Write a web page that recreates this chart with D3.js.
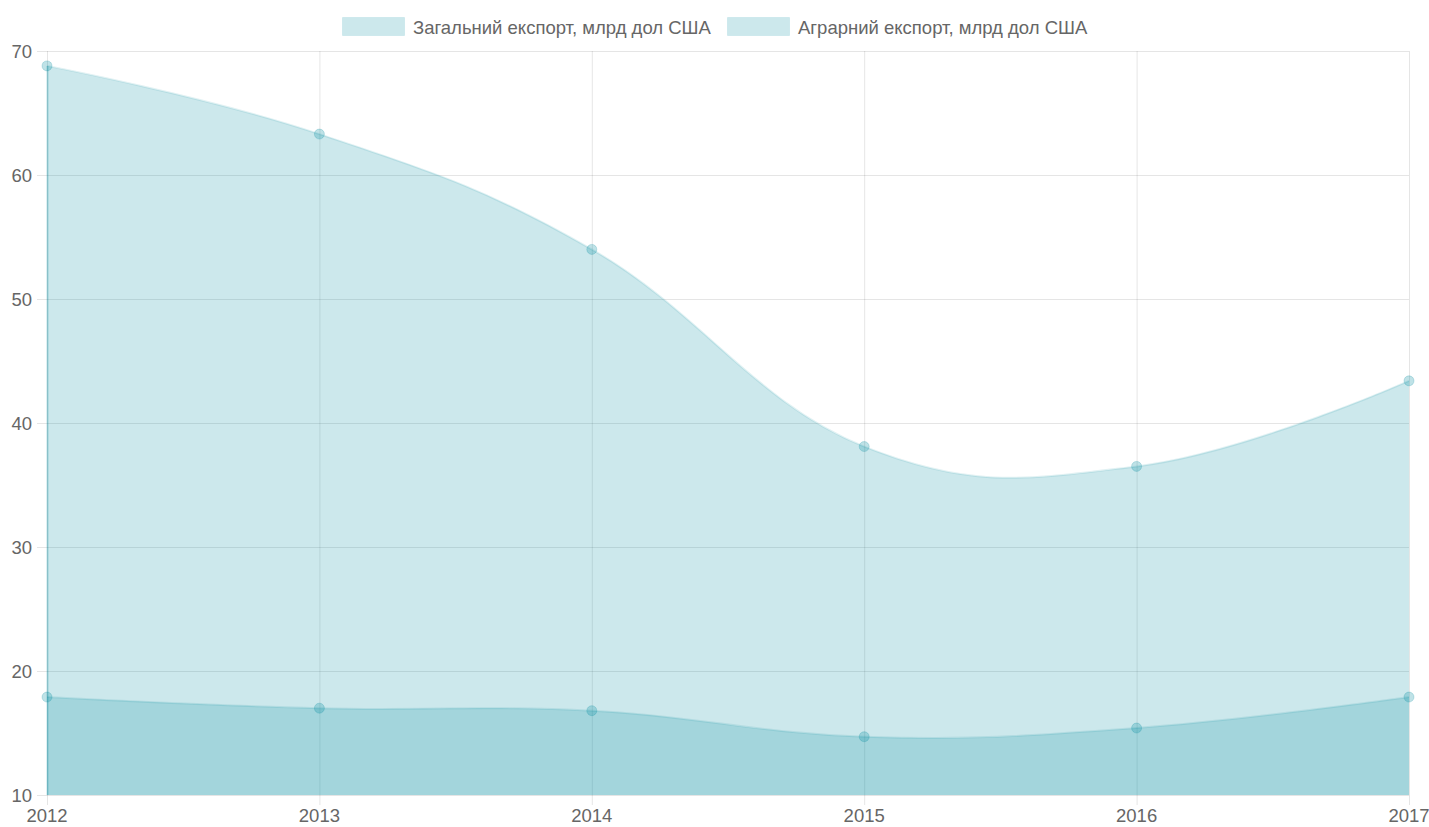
<!DOCTYPE html>
<html>
<head>
<meta charset="utf-8">
<script src="https://cdn.jsdelivr.net/npm/d3@7"></script>
<style>
  body { margin: 0; background: #fff; }
  svg { display: block; font-family: "Liberation Sans", Arial, sans-serif; }
</style>
</head>
<body>
<div id="chart"></div>
<script>
document.addEventListener('DOMContentLoaded', () => {

    // data
    const years = ["2012", "2013", "2014", "2015", "2016", "2017"];
    const totalExport = [68.8, 63.3, 54.0, 38.1, 36.5, 43.4];
    const agroExport = [17.9, 17.0, 16.8, 14.7, 15.4, 17.9];
    const seriesNames = ["Загальний експорт, млрд дол США", "Аграрний експорт, млрд дол США"];
    const yTicks = [10, 20, 30, 40, 50, 60, 70];

    const width = 1429;
    const height = 827;
    const margin = { top: 51, right: 20, bottom: 32, left: 47 };
    const fontSize = 18.5;

    const fillColor = "rgba(0,140,160,0.2)";
    const gridColor = "rgba(0,0,0,0.1)";

    const svg = d3.select("#chart").append("svg")
        .attr("width", width)
        .attr("height", height);

    const x = d3.scalePoint()
        .domain(years)
        .range([margin.left, width - margin.right]);

    const y = d3.scaleLinear()
        .domain([10, 70])
        .range([height - margin.bottom, margin.top]);

    // gridlines
    const grid = svg.append("g");
    grid.selectAll(".hg")
        .data(yTicks)
        .enter().append("line")
        .attr("x1", margin.left - 10)
        .attr("x2", width - margin.right)
        .attr("y1", d => y(d) + 0.5)
        .attr("y2", d => y(d) + 0.5)
        .attr("stroke", gridColor);
    grid.selectAll(".vg")
        .data(years)
        .enter().append("line")
        .attr("x1", d => x(d) + 0.5)
        .attr("x2", d => x(d) + 0.5)
        .attr("y1", margin.top)
        .attr("y2", height - margin.bottom + 10)
        .attr("stroke", gridColor);

    // y labels
    svg.append("g").selectAll("text")
        .data(yTicks)
        .enter().append("text")
        .attr("x", margin.left - 15)
        .attr("y", d => y(d))
        .attr("dy", "0.36em")
        .attr("text-anchor", "end")
        .attr("font-size", fontSize)
        .attr("fill", "#666")
        .text(d => d);

    // x labels
    svg.append("g").selectAll("text")
        .data(years)
        .enter().append("text")
        .attr("x", d => x(d))
        .attr("y", height - 5)
        .attr("text-anchor", "middle")
        .attr("font-size", fontSize)
        .attr("fill", "#666")
        .text(d => d);

    // areas (chart.js style spline ~ cardinal)
    const curve = d3.curveCardinal.tension(-0.2);
    const area = d3.area()
        .x((d, i) => x(years[i]))
        .y0(y(10))
        .y1(d => y(d))
        .curve(curve);
    const line = d3.line()
        .x((d, i) => x(years[i]))
        .y(d => y(d))
        .curve(curve);

    [totalExport, agroExport].forEach(series => {
        svg.append("path")
            .datum(series)
            .attr("d", area)
            .attr("fill", fillColor);
        svg.append("path")
            .datum(series)
            .attr("d", line)
            .attr("fill", "none")
            .attr("stroke", "rgba(0,140,160,0.12)")
            .attr("stroke-width", 2);
    });

    // darker left edge of the filled areas
    svg.append("line")
        .attr("x1", x(years[0]) + 0.5)
        .attr("x2", x(years[0]) + 0.5)
        .attr("y1", y(totalExport[0]))
        .attr("y2", y(10))
        .attr("stroke", "rgba(0,140,160,0.25)")
        .attr("stroke-width", 2);

    // points
    [totalExport, agroExport].forEach(series => {
        svg.append("g").selectAll("circle")
            .data(series)
            .enter().append("circle")
            .attr("cx", (d, i) => x(years[i]))
            .attr("cy", d => y(d))
            .attr("r", 5)
            .attr("fill", "rgba(0,140,160,0.25)")
            .attr("stroke", "rgba(0,140,160,0.2)")
            .attr("stroke-width", 1);
    });

    // legend
    const legend = svg.append("g");
    const legendX = [342, 727];
    seriesNames.forEach((name, i) => {
        legend.append("rect")
            .attr("x", legendX[i] + 0.5)
            .attr("y", 17.5)
            .attr("width", 62)
            .attr("height", 18)
            .attr("fill", fillColor)
            .attr("stroke", "rgba(0,140,160,0.1)");
        legend.append("text")
            .attr("x", legendX[i] + 71)
            .attr("y", 27)
            .attr("dy", "0.36em")
            .attr("font-size", fontSize)
            .attr("fill", "#666")
            .text(name);
    });
});
</script>
</body>
</html>
